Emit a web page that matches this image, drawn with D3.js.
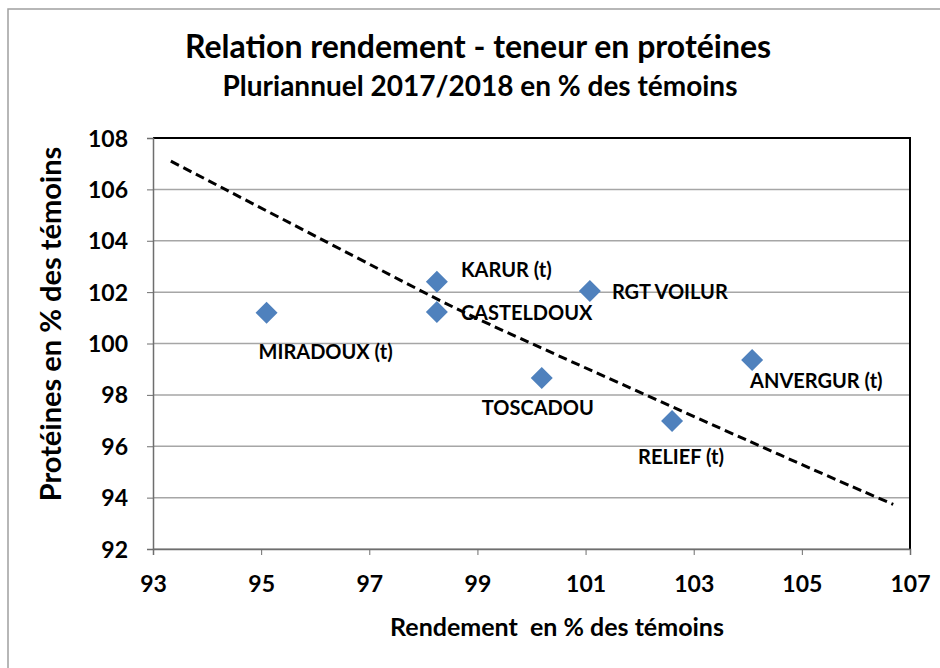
<!DOCTYPE html>
<html>
<head>
<meta charset="utf-8">
<title>Relation rendement - teneur en protéines</title>
<style>
  body { margin: 0; background: #fff; }
  text { font-family: Lato, "Open Sans", sans-serif; font-weight: bold; fill: #000; }
</style>
</head>
<body>
<script src="https://cdnjs.cloudflare.com/ajax/libs/d3/7.8.5/d3.min.js"></script>
<script>
// varieties, yield (% of controls) and protein (% of controls)
var varieties = ["MIRADOUX (t)", "KARUR (t)", "CASTELDOUX", "RGT VOILUR", "TOSCADOU", "RELIEF (t)", "ANVERGUR (t)"];
var rendement = [95.1, 98.25, 98.25, 101.08, 100.19, 102.6, 104.08];
var proteines = [101.2, 102.4, 101.23, 102.04, 98.66, 96.98, 99.36];

// trendline
var trendX = [93.33, 97.57, 100.0, 104.6, 106.69];
var trendY = [107.1, 102.47, 100.0, 95.66, 93.74];

var xTicks = [93, 95, 97, 99, 101, 103, 105, 107];
var yTicks = [92, 94, 96, 98, 100, 102, 104, 106, 108];

// label offsets in px from the marker (dx, dy)
var labelOffsets = [[-8, 39], [24, -12], [24, 1], [22, 1], [-60, 30], [-34, 36], [-2, 21]];

var W = 940, H = 668;
var plot = { left: 153, right: 910, top: 138, bottom: 549 };

var svg = d3.select("body").append("svg")
    .attr("width", W)
    .attr("height", H);

// outer chart frame
svg.append("rect")
    .attr("x", 8).attr("y", 9)
    .attr("width", W + 20).attr("height", H + 20)
    .style("fill", "none")
    .style("stroke", "#a0a0a0")
    .style("stroke-width", 1.5);

var x = d3.scaleLinear().domain([93, 107]).range([plot.left, plot.right]);
var y = d3.scaleLinear().domain([92, 108]).range([plot.bottom, plot.top]);

// horizontal gridlines
svg.append("g")
    .selectAll("line")
    .data(yTicks)
    .join("line")
    .attr("x1", plot.left).attr("x2", plot.right)
    .attr("y1", d => y(d)).attr("y2", d => y(d))
    .style("stroke", "#a6a6a6")
    .style("stroke-width", 1.5);

// plot border (top/right black)
svg.append("path")
    .attr("d", "M" + plot.left + "," + plot.top + "H" + plot.right + "V" + plot.bottom)
    .style("fill", "none")
    .style("stroke", "#000")
    .style("stroke-width", 2);

// axes
var yAxis = svg.append("g")
    .attr("transform", "translate(" + plot.left + ",0)")
    .call(d3.axisLeft(y).tickValues(yTicks).tickSize(6).tickPadding(19).tickFormat(d3.format("d")));
var xAxis = svg.append("g")
    .attr("transform", "translate(0," + plot.bottom + ")")
    .call(d3.axisBottom(x).tickValues(xTicks).tickSize(6).tickPadding(20).tickFormat(d3.format("d")));

[yAxis, xAxis].forEach(function(a) {
    a.select(".domain").style("stroke", "#6e6e6e").style("stroke-width", 1.5);
    a.selectAll(".tick line").style("stroke", "#6e6e6e").style("stroke-width", 1);
    a.selectAll(".tick text")
        .style("font-family", "Lato, sans-serif")
        .style("font-weight", "bold")
        .style("font-size", "23px")
        .style("fill", "#000");
});
yAxis.selectAll(".tick text").attr("dy", "0.35em");
xAxis.selectAll(".tick text").attr("dy", "0.75em");

// trendline
var trend = trendX.map((d, i) => ({ x: d, y: trendY[i] }));
svg.append("path")
    .attr("d", d3.line().x(d => x(d.x)).y(d => y(d.y)).curve(d3.curveNatural)(trend))
    .style("fill", "none")
    .style("stroke", "#000")
    .style("stroke-width", 3)
    .style("stroke-dasharray", "9,5");

// points
var pts = varieties.map((v, i) => ({ name: v, x: rendement[i], y: proteines[i], off: labelOffsets[i] }));

svg.append("g")
    .selectAll("path")
    .data(pts)
    .join("path")
    .attr("transform", d => "translate(" + x(d.x) + "," + y(d.y) + ")")
    .attr("d", "M0,-11L11,0L0,11L-11,0Z")
    .style("fill", "#4f81bd");

svg.append("g")
    .selectAll("text")
    .data(pts)
    .join("text")
    .attr("x", d => x(d.x) + d.off[0])
    .attr("y", d => y(d.y) + d.off[1])
    .attr("dy", "0.35em")
    .style("font-size", "20px")
    .text(d => d.name);

// titles
svg.append("text")
    .attr("x", 478).attr("y", 58)
    .attr("text-anchor", "middle")
    .style("font-size", "32px")
    .text("Relation rendement - teneur en protéines");
svg.append("text")
    .attr("x", 480).attr("y", 96)
    .attr("text-anchor", "middle")
    .style("font-size", "28px")
    .text("Pluriannuel 2017/2018 en % des témoins");

svg.append("text")
    .attr("x", 557).attr("y", 636)
    .attr("text-anchor", "middle")
    .style("font-size", "25px")
    .style("white-space", "pre")
    .text("Rendement  en % des témoins");

svg.append("text")
    .attr("transform", "translate(61,324) rotate(-90)")
    .attr("text-anchor", "middle")
    .style("font-size", "29px")
    .text("Protéines en % des témoins");
</script>
</body>
</html>
